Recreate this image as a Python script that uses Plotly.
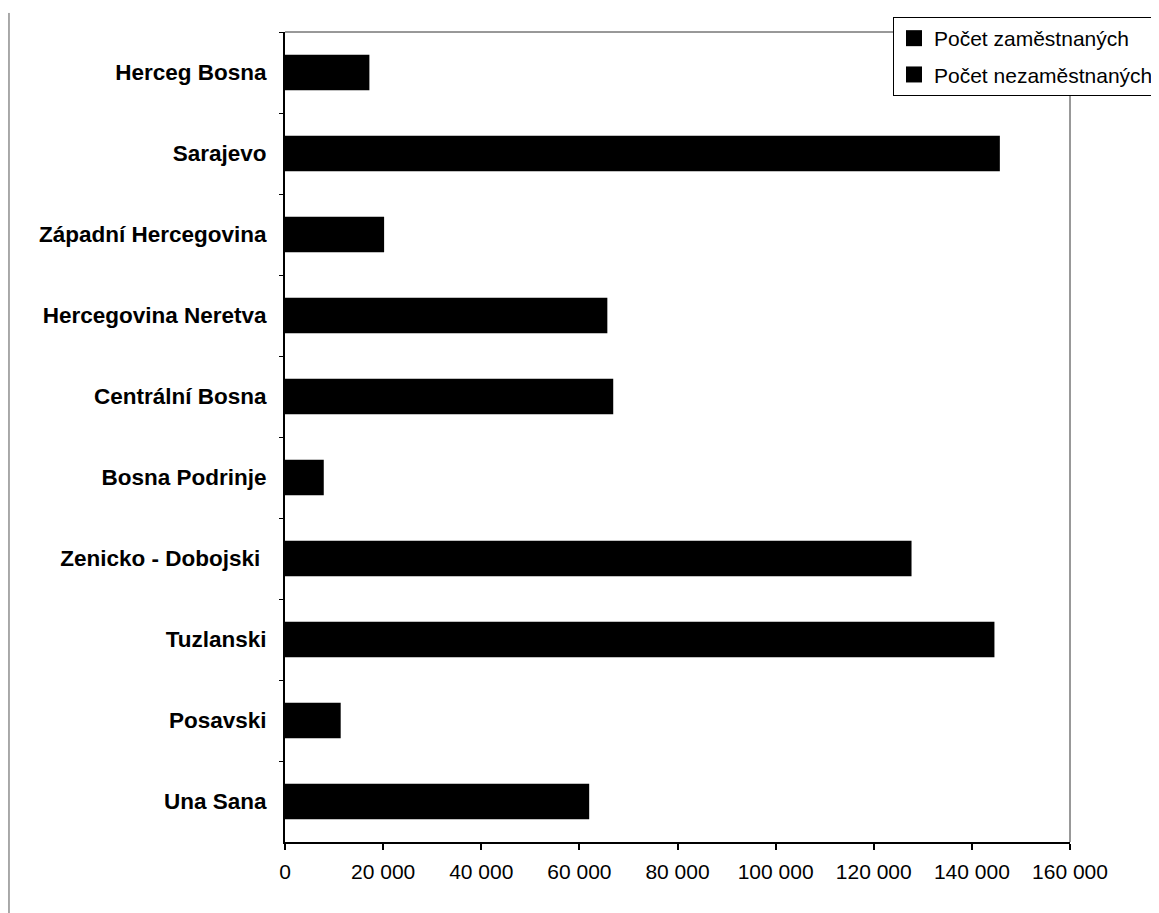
import plotly.graph_objects as go

regions = ["Herceg Bosna", "Sarajevo", "Západní Hercegovina", "Hercegovina Neretva",
           "Centrální Bosna", "Bosna Podrinje", "Zenicko - Dobojski\u00a0", "Tuzlanski",
           "Posavski", "Una Sana"]
employed = [17200, 145700, 20200, 65700, 66900, 7900, 127700, 144600, 11350, 62000]
series_names = ["Počet zaměstnaných", "Počet nezaměstnaných"]
x_tickvals = [0, 20000, 40000, 60000, 80000, 100000, 120000, 140000, 160000]
x_ticktext = ["0", "20 000", "40 000", "60 000", "80 000", "100 000", "120 000", "140 000", "160 000"]

FONT = "Liberation Sans, Arial, sans-serif"

fig = go.Figure()
fig.add_trace(go.Bar(
    y=regions, x=employed, orientation="h", name=series_names[0],
    marker=dict(color="black", line=dict(width=0)), width=0.44, showlegend=False,
))
for i, nm in enumerate(series_names):
    fig.add_trace(go.Scatter(
        x=[None], y=[None], mode="markers", name=nm, legendgroup=f"g{i}",
        marker=dict(symbol="square", size=16, color="black"),
    ))

fig.update_layout(
    width=1159, height=913,
    paper_bgcolor="white", plot_bgcolor="white",
    margin=dict(l=277, r=97, t=24, b=79, autoexpand=False),
    font=dict(family=FONT, color="black"),
    barmode="overlay",
    legend=dict(
        x=0.7745, y=1.0185, xanchor="left", yanchor="top",
        bgcolor="white", bordercolor="black", borderwidth=1,
        font=dict(family=FONT, size=21, color="black"),
        traceorder="grouped", tracegroupgap=6,
        itemwidth=30, entrywidth=290, entrywidthmode="pixels",
    ),
    shapes=[
        dict(type="line", xref="paper", yref="paper", x0=0, x1=1, y0=1, y1=1,
             line=dict(color="#333333", width=1)),
        dict(type="line", xref="paper", yref="paper", x0=1, x1=1, y0=0, y1=1,
             line=dict(color="#333333", width=1)),
        dict(type="line", xref="paper", yref="paper", x0=-0.3516, x1=-0.3516, y0=-0.1, y1=1.0235,
             line=dict(color="#555555", width=1)),
    ],
)

fig.update_xaxes(
    range=[0, 160000], tickvals=x_tickvals, ticktext=x_ticktext,
    ticks="outside", ticklen=6, tickwidth=1.5, tickcolor="black",
    showline=True, linewidth=2, linecolor="black",
    showgrid=False, zeroline=False,
    tickfont=dict(family=FONT, size=21, color="black"),
    ticklabelstandoff=4,
)
fig.update_yaxes(
    type="category", categoryorder="array", categoryarray=regions, autorange="reversed",
    tickson="boundaries", ticks="outside", ticklen=4, tickwidth=1, tickcolor="black",
    showline=True, linewidth=2, linecolor="black",
    showgrid=False, zeroline=False,
    tickfont=dict(family=FONT, size=22.5, color="black", weight="bold"),
    ticklabelstandoff=12,
)

fig.write_html("out.html")
